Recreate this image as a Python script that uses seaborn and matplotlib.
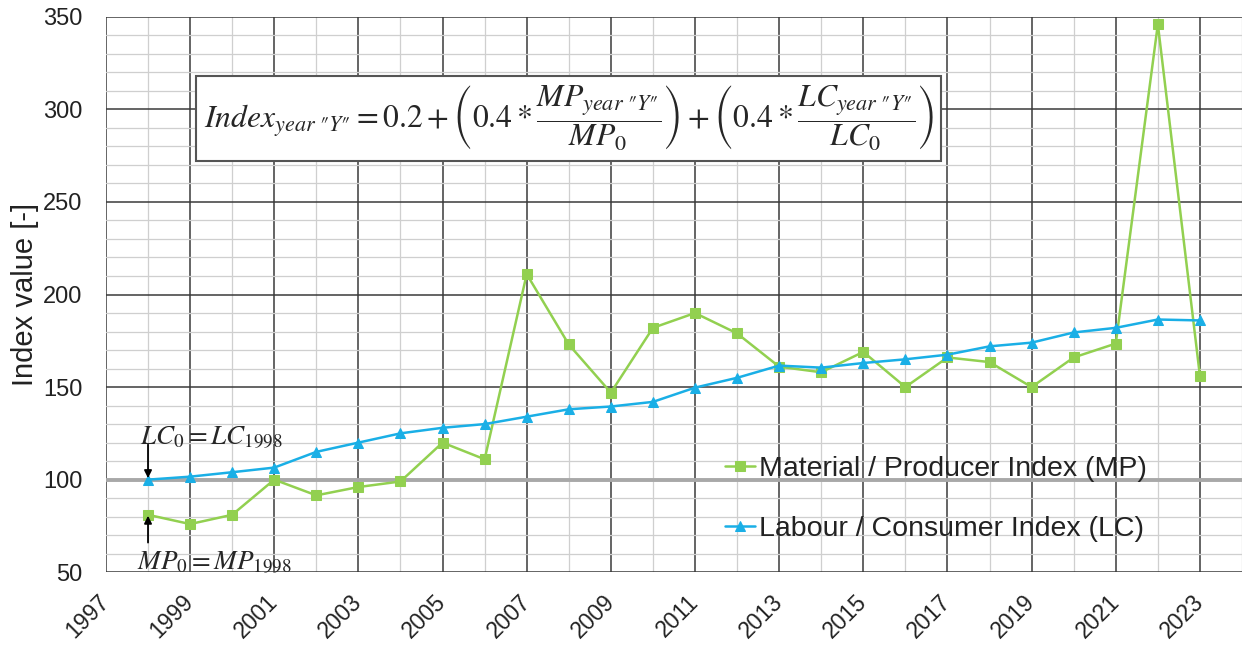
import matplotlib
matplotlib.use("Agg")
import matplotlib.pyplot as plt
import seaborn as sns
import pandas as pd
from matplotlib.ticker import MultipleLocator

years = list(range(1998, 2024))
mp_values = [81, 76, 81, 100, 91.5, 96, 99, 120, 111, 211, 173, 147, 182, 190, 179,
             161, 158, 169, 150, 166, 163.5, 150, 166, 173.5, 346, 156]
lc_values = [100, 101.6, 104, 106.5, 115, 120, 125, 128, 130, 134, 138, 139.5, 142,
             149.7, 155, 161.6, 160.5, 163, 165, 167.5, 172, 174, 179.5, 182, 186.5, 186]
mp_label = "Material / Producer Index (MP)"
lc_label = "Labour / Consumer Index (LC)"
xtick_labels = list(range(1997, 2024, 2))

sns.set_theme(style="white")
plt.rcParams['font.family'] = ['Liberation Sans', 'DejaVu Sans']
plt.rcParams['mathtext.fontset'] = 'stix'

df = pd.DataFrame({"year": years, "MP": mp_values, "LC": lc_values})

fig = plt.figure(figsize=(12.42, 6.48), dpi=100)
ax = fig.add_axes([0.0853, 0.117, 0.9147, 0.857])

green = "#92D050"
blue = "#1AAFE6"

sns.lineplot(data=df, x="year", y="MP", ax=ax, color=green, marker="s", markersize=7.5,
             markeredgecolor=green, linewidth=1.8, label=mp_label, zorder=5)
sns.lineplot(data=df, x="year", y="LC", ax=ax, color=blue, marker="^", markersize=7,
             markeredgecolor=blue, linewidth=1.8, label=lc_label, zorder=6)

ax.set_xlim(1997, 2024)
ax.set_ylim(50, 350)
ax.xaxis.set_major_locator(MultipleLocator(2))
ax.xaxis.set_minor_locator(MultipleLocator(1))
ax.yaxis.set_major_locator(MultipleLocator(50))
ax.yaxis.set_minor_locator(MultipleLocator(10))
ax.set_xticks(xtick_labels)
ax.set_xticklabels([str(v) for v in xtick_labels], rotation=45, ha="right", va="center",
                   rotation_mode="anchor", fontsize=16.5, color="#222222")
ax.tick_params(axis="y", labelsize=17, labelcolor="#222222", pad=17)
ax.tick_params(axis="x", pad=19)
ax.tick_params(axis="both", which="both", length=0)

ax.grid(which="major", color="#3a3a3a", linewidth=1.1)
ax.grid(which="minor", color="#cfcfcf", linewidth=0.9)
ax.axhline(100, color="#a8a8a8", linewidth=2.8, zorder=2)
for s in ax.spines.values():
    s.set_visible(False)
ax.set_axisbelow(True)

ax.set_xlabel("")
ax.set_ylabel("Index value [-]", fontsize=21, color="#222222", labelpad=3)

q = "\u2033"
formula = (r'$Index_{year\ ' + q + r'Y' + q + r'} = 0.2 + \left(0.4 * \dfrac{MP_{year\ ' + q + r'Y' + q
           + r'}}{MP_0}\right) + \left(0.4 * \dfrac{LC_{year\ ' + q + r'Y' + q + r'}}{LC_0}\right)$')
ax.text(2008.0, 295.1, formula, fontsize=22.8, ha="center", va="center", zorder=8,
        bbox=dict(boxstyle="square,pad=0.24", facecolor="white", edgecolor="#555555", linewidth=1.5))

arrow_kw = dict(arrowstyle="-|>", color="black", lw=1.3, shrinkA=0, shrinkB=0, mutation_scale=11)
ax.text(1997.81, 122.7, r"$LC_0 = LC_{1998}$", fontsize=19.5, ha="left", va="center", zorder=9)
ax.annotate("", xy=(1998, 100.8), xytext=(1998, 118.9), arrowprops=arrow_kw, zorder=9)
ax.text(1997.74, 55.1, r"$MP_0 = MP_{1998}$", fontsize=19.5, ha="left", va="center", zorder=9,
        clip_on=False)
ax.annotate("", xy=(1998, 80.5), xytext=(1998, 66), arrowprops=arrow_kw, zorder=9)

leg = ax.legend(loc="center left", bbox_to_anchor=(0.545, 0.132), frameon=False,
                fontsize=20.5, labelspacing=1.17, handlelength=1.05, handletextpad=0.15,
                borderaxespad=0, borderpad=0)
for t in leg.get_texts():
    t.set_color("#222222")

fig.savefig("out.png", dpi=100)
